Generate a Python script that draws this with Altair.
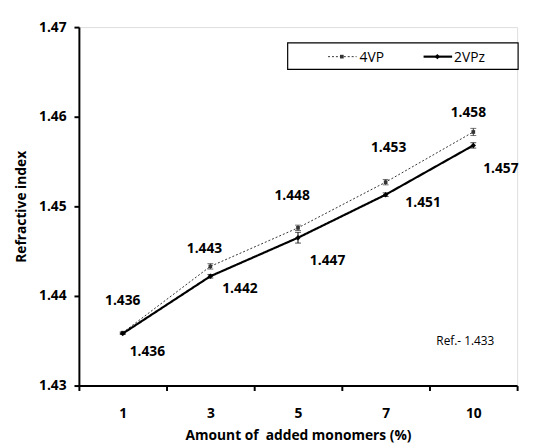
import altair as alt
import pandas as pd

cats = ["1", "3", "5", "7", "10"]
vp4 = [1.4359, 1.4433, 1.4476, 1.4527, 1.4583]
vp4_err = [0.0001, 0.0003, 0.0003, 0.0003, 0.0004]
vpz = [1.4358, 1.4422, 1.4465, 1.4513, 1.4568]
vpz_err = [0.0001, 0.0002, 0.0006, 0.0002, 0.0003]
labels4 = ["1.436", "1.443", "1.448", "1.453", "1.458"]
labelsz = ["1.436", "1.442", "1.447", "1.451", "1.457"]
series_names = ["4VP", "2VPz"]
ref_note = "Ref.- 1.433"

# label pixel offsets (style)
off4 = [(0, -32), (-6, -18), (-6, -32), (3, -35), (-5, -19)]
offz = [(25, 19), (30, 13), (30, 24), (38, 9), (28, 24)]

FONT = "Open Sans"

df4 = pd.DataFrame({"cat": cats, "v": vp4, "lo": [a - b for a, b in zip(vp4, vp4_err)],
                    "hi": [a + b for a, b in zip(vp4, vp4_err)], "lab": labels4})
dfz = pd.DataFrame({"cat": cats, "v": vpz, "lo": [a - b for a, b in zip(vpz, vpz_err)],
                    "hi": [a + b for a, b in zip(vpz, vpz_err)], "lab": labelsz})

xenc = alt.X("cat:N", sort=cats, title="Amount of\u00a0 added monomers (%)",
             scale=alt.Scale(paddingInner=0, paddingOuter=0),
             axis=alt.Axis(labelAngle=0, tickBand="extent", labelFontWeight="bold",
                           labelFontSize=14, labelPadding=16, tickSize=5, tickWidth=2,
                           domainWidth=2, domainColor="black", tickColor="black",
                           titleFontSize=14, titleFontWeight="bold", titlePadding=9,
                           labelFont=FONT, titleFont=FONT, labelColor="black", titleColor="black"))
yscale = alt.Scale(domain=[1.43, 1.47], nice=False, zero=False)
yenc = alt.Y("v:Q", scale=yscale, title="Refractive index",
             axis=alt.Axis(values=[1.43, 1.44, 1.45, 1.46, 1.47], format=".2f", grid=False,
                           labelFontWeight="bold", labelFontSize=14, labelPadding=8,
                           tickSize=5, tickWidth=2, domainWidth=2, domainColor="black",
                           tickColor="black", titleFontSize=14, titleFontWeight="bold",
                           titlePadding=10, labelFont=FONT, titleFont=FONT,
                           labelColor="black", titleColor="black"))

def series_layers(df, dash, width, shape, size, color):
    base = alt.Chart(df)
    line = base.mark_line(strokeDash=dash, strokeWidth=width, color=color).encode(x=xenc, y=yenc)
    pts = base.mark_point(shape=shape, size=size, filled=True, color=color, opacity=1).encode(x=xenc, y=yenc)
    rule = base.mark_rule(color=color, strokeWidth=1).encode(x=xenc, y=alt.Y("lo:Q", scale=yscale), y2="hi:Q")
    t1 = base.mark_tick(color=color, size=6, thickness=1, orient="horizontal").encode(x=xenc, y=alt.Y("lo:Q", scale=yscale))
    t2 = base.mark_tick(color=color, size=6, thickness=1, orient="horizontal").encode(x=xenc, y=alt.Y("hi:Q", scale=yscale))
    return [line, rule, t1, t2, pts]

layers = []
layers += series_layers(df4, [2, 2], 1, "square", 14, "#333333")
layers += series_layers(dfz, [1, 0], 2.2, "diamond", 30, "black")

for df, offs in ((df4, off4), (dfz, offz)):
    for i in range(len(cats)):
        layers.append(
            alt.Chart(df.iloc[[i]]).mark_text(font=FONT, fontSize=14, fontWeight="bold",
                                              color="black", dx=offs[i][0], dy=offs[i][1],
                                              align="center", baseline="middle")
            .encode(x=xenc, y=yenc, text="lab:N"))

# legend
legend_df = pd.DataFrame({"name": series_names})
lg = alt.Chart(legend_df.iloc[[0]])
layers.append(lg.mark_rect(fill="white", stroke="black", strokeWidth=1.2).encode(
    x=alt.value(212), x2=alt.value(446), y=alt.value(16), y2=alt.value(43)))
layers.append(lg.mark_rule(strokeDash=[2, 2], strokeWidth=1, color="#333333").encode(
    x=alt.value(253), x2=alt.value(282), y=alt.value(30)))
layers.append(lg.mark_point(shape="square", size=14, filled=True, color="#333333", opacity=1).encode(
    x=alt.value(267), y=alt.value(30)))
layers.append(lg.mark_text(font=FONT, fontSize=14, align="left", baseline="middle", color="black").encode(
    x=alt.value(285), y=alt.value(31), text="name:N"))
lg2 = alt.Chart(legend_df.iloc[[1]])
layers.append(lg2.mark_rule(strokeWidth=2.2, color="black").encode(
    x=alt.value(350), x2=alt.value(379), y=alt.value(30)))
layers.append(lg2.mark_point(shape="diamond", size=30, filled=True, color="black", opacity=1).encode(
    x=alt.value(364), y=alt.value(30)))
layers.append(lg2.mark_text(font=FONT, fontSize=14, align="left", baseline="middle", color="black").encode(
    x=alt.value(381), y=alt.value(31), text="name:N"))

note_df = pd.DataFrame({"t": [ref_note]})
layers.append(alt.Chart(note_df).mark_text(font=FONT, fontSize=12, align="left", baseline="middle",
                                           color="black").encode(
    x=alt.value(363), y=alt.value(319), text="t:N"))

chart = alt.layer(*layers).properties(
    width=445, height=364,
    autosize=alt.AutoSizeParams(type="none"),
    padding={"left": 72, "top": 16, "right": 8, "bottom": 60},
).configure_view(stroke=None).configure(background="white")

chart.save("out.html", embed_options={"renderer": "svg", "actions": False})
